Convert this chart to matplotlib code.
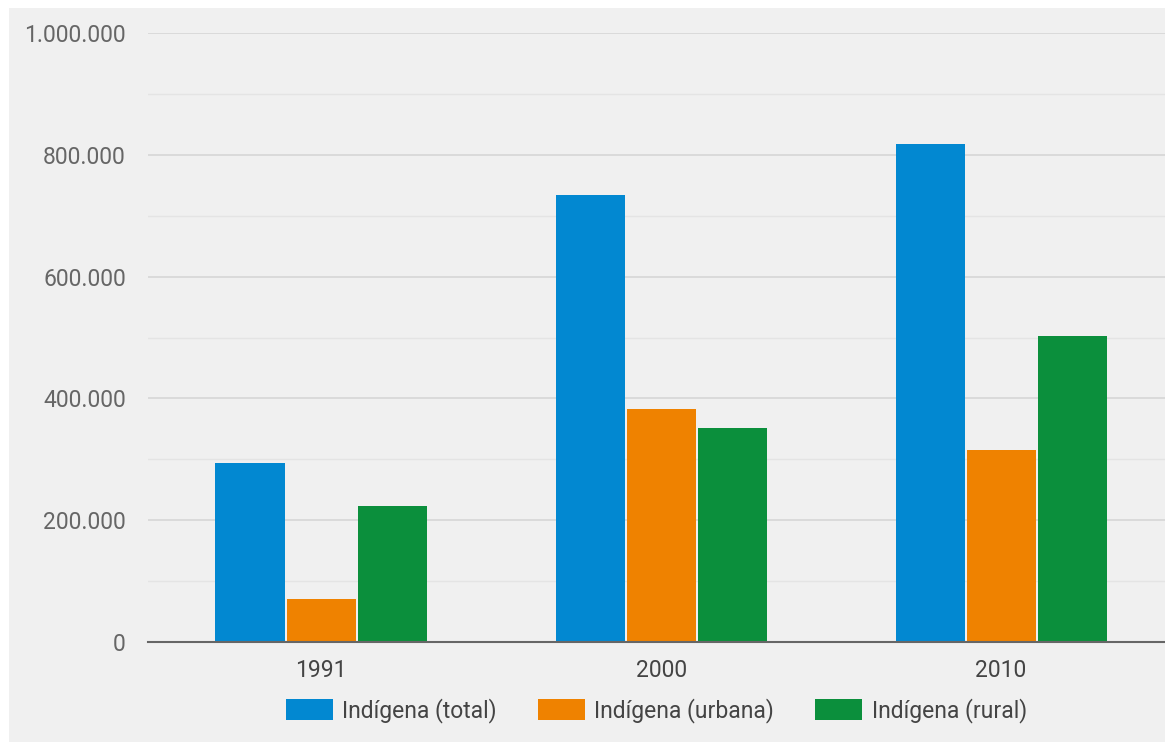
import matplotlib
matplotlib.use("Agg")
import matplotlib.pyplot as plt
from matplotlib.patches import Rectangle
from matplotlib.ticker import FuncFormatter, MultipleLocator
import numpy as np

plt.rcParams['font.family'] = ['Roboto', 'DejaVu Sans']

years = ["1991", "2000", "2010"]
series_names = ["Indígena (total)", "Indígena (urbana)", "Indígena (rural)"]
total = [294131, 734127, 817963]
urbana = [71026, 383298, 315180]
rural = [223105, 350829, 502783]
colors = ["#0288d1", "#ef8200", "#0b8f3c"]

fig = plt.figure(figsize=(11.65, 7.42), dpi=100, facecolor="white")
fig.patches.append(Rectangle((9/1165, 0), 1, (742-8)/742, transform=fig.transFigure,
                             facecolor="#f0f0f0", edgecolor="none", zorder=-10))
ax = fig.add_axes([148/1165, 100/742, 1 - 148/1165, (642-33)/742])
ax.patch.set_alpha(0)

x = np.arange(len(years))
w = 0.203
for i, (vals, name, c) in enumerate(zip([total, urbana, rural], series_names, colors)):
    ax.bar(x + (i - 1) * (w + 0.006), vals, width=w, color=c, label=name, zorder=3)

ax.set_xlim(-0.509, 2.482)
ax.set_ylim(0, 1000000)
ax.yaxis.set_major_locator(MultipleLocator(200000))
ax.yaxis.set_minor_locator(MultipleLocator(100000))
ax.yaxis.set_major_formatter(FuncFormatter(lambda v, p: f"{int(v):,}".replace(",", ".")))
ax.grid(axis="y", which="major", color="#d6d6d6", linewidth=1.2, zorder=1)
ax.grid(axis="y", which="minor", color="#e4e4e4", linewidth=1.0, zorder=1)
for s in ["top", "right", "left"]:
    ax.spines[s].set_visible(False)
ax.spines["bottom"].set_color("#666666")
ax.spines["bottom"].set_linewidth(1.5)
ax.spines["bottom"].set_zorder(4)
ax.tick_params(axis="y", which="both", length=0, pad=16, labelsize=16.5, labelcolor="#666666")
ax.tick_params(axis="x", length=0, pad=12, labelsize=16.5, labelcolor="#444444")
ax.set_xticks(x)
ax.set_xticklabels(years)

leg = ax.legend(loc="upper center", bbox_to_anchor=(0.5, -0.058), ncol=3, frameon=False,
                fontsize=16.5, handlelength=2.05, handleheight=1.0, columnspacing=1.8,
                handletextpad=0.4, labelcolor="#444444")

fig.savefig("out.png", dpi=100, facecolor="white")
